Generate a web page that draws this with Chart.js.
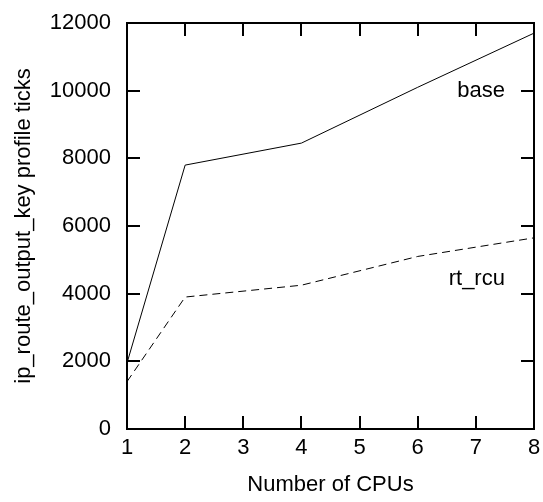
<!DOCTYPE html>
<html>
<head>
<meta charset="utf-8">
<script src="https://cdn.jsdelivr.net/npm/chart.js@4/dist/chart.umd.min.js"></script>
<style>
html,body{margin:0;padding:0;background:#fff;}
#wrap{width:543px;height:502px;position:relative;}
</style>
</head>
<body>
<div id="wrap"><canvas id="c" width="543" height="502"></canvas></div>
<script>
const cpus = [1, 2, 4, 6, 8];
const baseTicks = [1950, 7800, 8450, 10100, 11700];
const rtRcuTicks = [1400, 3900, 4250, 5100, 5650];
const xTickValues = [1, 2, 3, 4, 5, 6, 7, 8];
const yTickValues = [0, 2000, 4000, 6000, 8000, 10000, 12000];
const seriesNames = ['base', 'rt_rcu'];
const labelAnchors = [[7.5, 10000], [7.5, 4450]];

const FONT = '"Liberation Sans", Arial, Helvetica, sans-serif';
const FS = 22;

const framePlugin = {
  id: 'frame',
  afterDatasetsDraw(chart) {
    const ctx = chart.ctx;
    const a = chart.chartArea;
    const xs = chart.scales.x, ys = chart.scales.y;
    const L = 13;
    ctx.save();
    ctx.strokeStyle = '#000';
    ctx.lineWidth = 2;
    ctx.beginPath();
    xTickValues.forEach(v => {
      const px = Math.round(xs.getPixelForValue(v));
      ctx.moveTo(px, a.bottom); ctx.lineTo(px, a.bottom - L);
      ctx.moveTo(px, a.top); ctx.lineTo(px, a.top + L);
    });
    yTickValues.forEach(v => {
      const py = Math.round(ys.getPixelForValue(v));
      ctx.moveTo(a.left, py); ctx.lineTo(a.left + L, py);
      ctx.moveTo(a.right, py); ctx.lineTo(a.right - L, py);
    });
    ctx.stroke();
    ctx.strokeRect(a.left, a.top, a.right - a.left, a.bottom - a.top);
    ctx.fillStyle = '#000';
    ctx.font = FS + 'px ' + FONT;
    ctx.textAlign = 'right';
    ctx.textBaseline = 'middle';
    seriesNames.forEach((n, i) => {
      ctx.fillText(n, xs.getPixelForValue(labelAnchors[i][0]), ys.getPixelForValue(labelAnchors[i][1]));
    });
    ctx.restore();
  }
};

new Chart(document.getElementById('c'), {
  type: 'line',
  data: {
    datasets: [
      {
        label: seriesNames[0],
        data: cpus.map((x, i) => ({x, y: baseTicks[i]})),
        borderColor: '#000', borderWidth: 1, pointRadius: 0, fill: false, tension: 0
      },
      {
        label: seriesNames[1],
        data: cpus.map((x, i) => ({x, y: rtRcuTicks[i]})),
        borderColor: '#000', borderWidth: 1, borderDash: [8, 5], pointRadius: 0, fill: false, tension: 0
      }
    ]
  },
  options: {
    responsive: false,
    animation: false,
    devicePixelRatio: 1,
    layout: { padding: { left: 0, right: 9, top: 23, bottom: 0 } },
    plugins: { legend: { display: false }, tooltip: { enabled: false } },
    scales: {
      x: {
        type: 'linear', min: 1, max: 8,
        afterBuildTicks(s) { s.ticks = xTickValues.map(v => ({value: v})); },
        afterFit(s) { s.height = 73; s.paddingLeft = 0; s.paddingRight = 0; },
        grid: { display: false, drawTicks: false },
        border: { display: false },
        ticks: { color: '#000', font: { family: FONT, size: FS }, padding: 6, maxRotation: 0, autoSkip: false,
                 callback: v => String(v) },
        title: { display: true, text: 'Number of CPUs', color: '#000', font: { family: FONT, size: FS }, padding: { top: 10, bottom: 4 } }
      },
      y: {
        type: 'linear', min: 0, max: 12000,
        afterBuildTicks(s) { s.ticks = yTickValues.map(v => ({value: v})); },
        afterFit(s) { s.width = 127; s.paddingTop = 0; s.paddingBottom = 0; },
        grid: { display: false, drawTicks: false },
        border: { display: false },
        ticks: { color: '#000', font: { family: FONT, size: FS }, padding: 16, autoSkip: false,
                 callback: v => String(v) },
        title: { display: true, text: 'ip_route_output_key profile ticks', color: '#000', font: { family: FONT, size: FS }, padding: { top: 11, bottom: 0 } }
      }
    }
  },
  plugins: [framePlugin]
});
</script>
</body>
</html>
